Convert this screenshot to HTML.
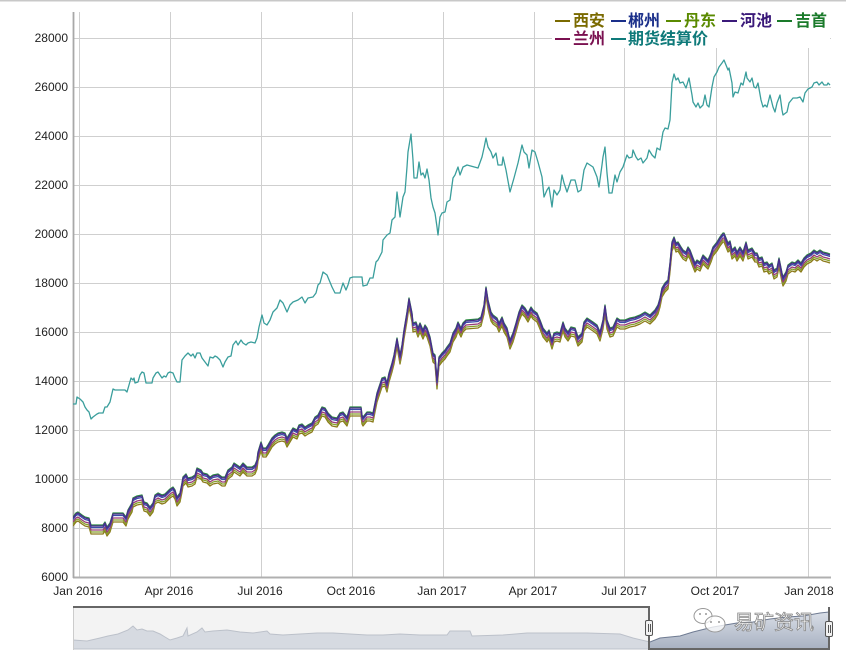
<!DOCTYPE html>
<html><head><meta charset="utf-8"><style>
html,body{margin:0;padding:0;background:#fff;}
svg{display:block;}
text{font-family:"Liberation Sans","Noto Sans CJK SC",sans-serif;}
</style></head><body>
<svg width="846" height="658" viewBox="0 0 846 658" xmlns="http://www.w3.org/2000/svg">
<defs>
<clipPath id="plot"><rect x="73" y="10" width="760" height="568"/></clipPath>
<clipPath id="navL"><rect x="73" y="600" width="576" height="50"/></clipPath>
<clipPath id="navR"><rect x="649" y="600" width="180" height="50"/></clipPath>
<linearGradient id="selg" x1="0" y1="0" x2="0" y2="1">
<stop offset="0" stop-color="#d9dee7"/><stop offset="1" stop-color="#a8b1c2"/>
</linearGradient>
<polyline id="cl" fill="none" points="73,517 76,513 78,512 82,515 85,517 89,518 91,525 103,525 105,522 107,527 110,523 113,513 123,513 126,517 128,510 132,503 133,498 137,496 142,495 144,502 147,503 150,507 153,503 155,495 158,493 162,495 165,494 167,492 170,489 173,487 175,490 177,497 180,493 182,483 183,477 186,474 188,478 192,477 195,475 197,468 201,470 203,473 207,474 210,477 213,475 218,474 222,477 225,477 228,470 232,467 234,463 237,465 240,467 243,463 247,467 252,467 255,465 257,460 258,452 261,442 263,448 266,448 268,445 272,438 275,435 278,433 282,432 285,433 287,438 290,433 293,428 297,430 299,425 302,424 305,427 308,425 312,423 315,417 318,415 322,407 325,408 328,413 332,417 337,418 340,413 343,412 347,417 350,407 358,407 361,407 362,415 363,417 367,412 370,412 373,413 374,408 377,393 378,390 382,378 385,377 387,383 389,373 392,363 394,355 397,338 400,355 402,345 404,330 407,312 409,298 412,313 413,323 416,322 418,328 420,323 423,330 425,325 427,328 430,337 433,353 435,355 437,380 439,357 442,353 445,350 447,347 450,343 453,333 456,328 458,322 461,328 463,323 466,320 478,319 481,317 484,305 486,287 488,300 491,312 493,315 497,318 499,323 502,317 504,323 507,328 510,340 513,333 516,323 519,312 522,305 525,308 528,313 531,307 533,310 537,313 540,320 543,328 547,333 549,330 552,340 554,333 557,332 560,333 563,322 565,328 568,332 571,327 575,328 578,337 582,333 584,322 587,318 590,320 593,322 597,325 600,332 603,320 605,305 607,320 610,328 613,327 617,318 620,320 625,320 630,318 635,317 640,315 645,312 650,315 655,310 658,305 660,298 662,288 665,283 668,280 670,263 672,242 674,237 676,243 678,242 681,247 683,250 686,252 688,247 690,250 693,258 695,263 697,260 700,262 703,255 706,258 708,260 711,253 713,247 717,242 720,237 723,233 724,233 726,238 728,243 730,241 732,250 735,247 737,252 740,247 743,252 746,242 748,250 752,248 755,253 757,253 759,258 762,257 764,263 767,262 769,265 772,263 774,270 777,268 779,258 782,273 783,277 786,272 788,265 792,262 795,263 798,260 801,263 804,258 807,255 811,253 814,250 817,252 820,250 823,252 827,253 830,254"/>
</defs>

<!-- top border -->
<line x1="0" y1="0.75" x2="846" y2="0.75" stroke="#c8c8c8" stroke-width="1.5"/>

<!-- grid -->
<g stroke="#cfcfcf" stroke-width="1">
<line x1="73" y1="38.5" x2="831" y2="38.5"/>
<line x1="73" y1="87.5" x2="831" y2="87.5"/>
<line x1="73" y1="136.5" x2="831" y2="136.5"/>
<line x1="73" y1="185.5" x2="831" y2="185.5"/>
<line x1="73" y1="234.5" x2="831" y2="234.5"/>
<line x1="73" y1="283.5" x2="831" y2="283.5"/>
<line x1="73" y1="332.5" x2="831" y2="332.5"/>
<line x1="73" y1="381.5" x2="831" y2="381.5"/>
<line x1="73" y1="430.5" x2="831" y2="430.5"/>
<line x1="73" y1="479.5" x2="831" y2="479.5"/>
<line x1="73" y1="528.5" x2="831" y2="528.5"/>
<line x1="79.5" y1="12" x2="79.5" y2="578"/>
<line x1="170.5" y1="12" x2="170.5" y2="578"/>
<line x1="261.5" y1="12" x2="261.5" y2="578"/>
<line x1="352.5" y1="12" x2="352.5" y2="578"/>
<line x1="443.5" y1="12" x2="443.5" y2="578"/>
<line x1="534.5" y1="12" x2="534.5" y2="578"/>
<line x1="624.5" y1="12" x2="624.5" y2="578"/>
<line x1="716.5" y1="12" x2="716.5" y2="578"/>
<line x1="808.5" y1="12" x2="808.5" y2="578"/>
</g>
<line x1="73" y1="577.5" x2="831" y2="577.5" stroke="#b0b0b0" stroke-width="2"/>
<line x1="73.5" y1="12" x2="73.5" y2="578" stroke="#a8a8a8" stroke-width="1.8"/>

<!-- y labels -->
<g font-size="12" fill="#222" text-anchor="end">
<text x="68" y="42">28000</text>
<text x="68" y="91">26000</text>
<text x="68" y="140">24000</text>
<text x="68" y="189">22000</text>
<text x="68" y="238">20000</text>
<text x="68" y="287">18000</text>
<text x="68" y="336">16000</text>
<text x="68" y="385">14000</text>
<text x="68" y="434">12000</text>
<text x="68" y="483">10000</text>
<text x="68" y="532">8000</text>
<text x="68" y="581">6000</text>
</g>
<!-- x labels -->
<g font-size="12" fill="#222" text-anchor="middle">
<text x="78" y="595">Jan 2016</text>
<text x="169" y="595">Apr 2016</text>
<text x="260" y="595">Jul 2016</text>
<text x="351" y="595">Oct 2016</text>
<text x="442" y="595">Jan 2017</text>
<text x="533" y="595">Apr 2017</text>
<text x="624" y="595">Jul 2017</text>
<text x="715" y="595">Oct 2017</text>
<text x="809" y="595">Jan 2018</text>
</g>

<!-- series -->
<g clip-path="url(#plot)" stroke-width="1.3" stroke-linejoin="round" fill="none">
<use href="#cl" transform="translate(0,9)" stroke="#8c7a1a"/>
<use href="#cl" transform="translate(0,7)" stroke="#86a02a"/>
<use href="#cl" transform="translate(0,5)" stroke="#973a78"/>
<use href="#cl" transform="translate(0,2.5)" stroke="#3a4ca8"/>
<use href="#cl" transform="translate(0,0)" stroke="#2a8c40"/>
<use href="#cl" transform="translate(0,1)" stroke="#4a2c8c"/>
<polyline stroke="#3a9e9c" stroke-width="1.3" points="73,404 76,404 77,397 80,399 83,402 85,407 87,410 89,412 91,419 93,417 97,414 99,413 103,413 105,407 107,407 110,402 113,389 115,390 125,390 127,392 129,385 131,378 133,380 134,378 135,383 138,382 140,375 142,372 144,373 146,383 148,383 152,383 153,378 156,373 158,372 160,375 162,378 164,376 166,377 168,373 170,372 173,373 175,378 177,382 180,382 182,360 185,356 188,353 191,356 193,354 195,358 197,353 200,353 202,358 205,362 208,366 210,357 213,358 215,356 217,357 220,360 223,367 225,362 228,357 231,356 233,345 236,341 238,345 241,340 243,343 246,345 248,343 251,342 255,343 257,338 259,327 262,315 264,323 267,325 270,320 273,312 277,308 280,300 283,303 287,312 290,305 293,302 298,300 302,297 305,303 308,298 313,297 316,293 318,285 320,283 323,272 327,275 332,287 335,293 340,293 343,283 346,290 348,285 350,278 353,277 360,277 362,277 363,286 367,285 370,278 373,278 376,262 378,260 382,252 383,240 387,235 390,233 392,220 395,217 397,192 400,217 403,197 405,192 407,167 408,152 411,134 413,160 414,178 417,178 419,162 421,175 423,173 425,178 427,169 429,180 431,198 433,207 435,213 437,227 438,235 440,217 442,213 445,212 447,202 450,200 453,178 455,175 458,167 460,175 463,167 467,165 478,168 482,157 484,148 486,138 488,147 491,152 493,158 496,153 498,165 502,165 503,157 506,170 510,192 514,178 518,163 522,145 524,152 527,155 529,168 532,150 535,152 538,162 542,177 544,197 547,190 549,187 552,207 554,190 557,195 560,190 562,175 564,183 567,192 571,180 575,180 578,192 581,190 584,170 587,163 590,165 593,167 597,177 599,187 602,165 603,157 605,147 607,173 609,193 612,193 615,175 617,182 620,172 623,167 627,155 629,158 632,157 633,150 636,157 638,160 641,158 643,163 647,158 649,150 652,155 655,158 657,148 660,150 663,132 665,128 668,129 670,120 672,83 674,74 676,80 678,78 680,83 683,82 686,88 689,78 692,95 693,102 696,107 698,103 700,108 703,105 705,95 707,105 709,107 712,87 714,77 717,72 719,67 722,63 724,60 726,65 728,70 729,68 732,83 733,97 735,92 738,93 741,83 743,85 746,72 747,78 750,82 752,78 754,87 756,88 758,83 761,100 763,107 765,105 767,107 770,95 773,107 775,112 777,103 780,95 782,110 783,115 787,112 789,103 793,98 797,98 800,97 803,102 805,93 808,89 812,87 814,83 817,82 819,85 822,82 824,85 827,85 828,83 830,85"/>
</g>

<!-- legend -->
<rect x="552" y="9" width="278" height="39" fill="#fff"/>
<g font-size="16" font-weight="bold" font-family="'Liberation Sans','Noto Sans CJK SC',sans-serif">
<line x1="555" y1="21" x2="570" y2="21" stroke="#7a6a00" stroke-width="2"/>
<text x="573" y="26" fill="#7a6a00">西安</text>
<line x1="611" y1="21" x2="626" y2="21" stroke="#1a2f8a" stroke-width="2"/>
<text x="628" y="26" fill="#1a2f8a">郴州</text>
<line x1="666" y1="21" x2="681" y2="21" stroke="#5a8a00" stroke-width="2"/>
<text x="684" y="26" fill="#5a8a00">丹东</text>
<line x1="722" y1="21" x2="737" y2="21" stroke="#3b1a7a" stroke-width="2"/>
<text x="740" y="26" fill="#3b1a7a">河池</text>
<line x1="777" y1="21" x2="792" y2="21" stroke="#1a7a2a" stroke-width="2"/>
<text x="795" y="26" fill="#1a7a2a">吉首</text>
<line x1="555" y1="39" x2="570" y2="39" stroke="#7a1050" stroke-width="2"/>
<text x="573" y="44" fill="#7a1050">兰州</text>
<line x1="611" y1="39" x2="626" y2="39" stroke="#0f7a7a" stroke-width="2"/>
<text x="628" y="44" fill="#0f7a7a">期货结算价</text>
</g>

<!-- navigator -->
<rect x="73" y="607" width="576" height="42" fill="#f3f3f3"/>
<rect x="649" y="607" width="180" height="42" fill="#fff"/>
<path id="navarea" d="M73,640 87,641 100,638 108,636 118,634 128,630 133,626 137,630 142,629 147,631 153,631 160,634 165,637 170,640 177,638 183,636 187,628 188,636 197,632 202,628 205,632 213,631 227,630 240,632 253,633 267,631 270,634 283,635 300,634 317,633 333,633 350,634 367,635 383,635 400,634 420,635 447,635 450,631 470,631 472,636 503,635 527,633 553,633 587,633 620,634 633,638 650,642 660,638 680,636 693,632 713,627 737,623 753,622 770,619 787,617 803,616 820,613 829,612 L829,649 73,649Z" fill="#d6dae1" stroke="#bcc1ca" stroke-width="1" clip-path="url(#navL)"/>
<path d="M73,640 87,641 100,638 108,636 118,634 128,630 133,626 137,630 142,629 147,631 153,631 160,634 165,637 170,640 177,638 183,636 187,628 188,636 197,632 202,628 205,632 213,631 227,630 240,632 253,633 267,631 270,634 283,635 300,634 317,633 333,633 350,634 367,635 383,635 400,634 420,635 447,635 450,631 470,631 472,636 503,635 527,633 553,633 587,633 620,634 633,638 650,642 660,638 680,636 693,632 713,627 737,623 753,622 770,619 787,617 803,616 820,613 829,612 L829,649 73,649Z" fill="url(#selg)" stroke="#6f7b92" stroke-width="1" clip-path="url(#navR)"/>
<line x1="73.5" y1="607" x2="73.5" y2="650" stroke="#cccccc" stroke-width="1"/>
<path d="M73,607 L649,607 L649,649 L829,649 L829,607" fill="none" stroke="#666" stroke-width="2"/>

<!-- watermark -->
<g fill="#fff" fill-opacity="0.75" stroke="#999" stroke-width="1">
<ellipse cx="703" cy="616" rx="9" ry="7.5"/>
<ellipse cx="715" cy="624" rx="10" ry="8"/>
</g>
<g fill="#999"><circle cx="711" cy="622" r="1"/><circle cx="719" cy="622" r="1"/><circle cx="700" cy="614" r="1"/><circle cx="706" cy="614" r="1"/></g>
<text x="734" y="629" font-size="20" fill="#fff" stroke="#8a8a8a" stroke-width="0.8" font-family="'Liberation Sans','Noto Sans CJK SC',sans-serif">易矿资讯</text>

<!-- handles -->
<g fill="#f2f2f2" stroke="#555" stroke-width="1">
<rect x="645.5" y="620.5" width="7" height="15" rx="1.5"/>
<rect x="825.5" y="621.5" width="7" height="15" rx="1.5"/>
</g>
<g stroke="#555" stroke-width="1">
<line x1="648.5" y1="624" x2="648.5" y2="632"/><line x1="650.5" y1="624" x2="650.5" y2="632"/>
<line x1="828.5" y1="625" x2="828.5" y2="633"/><line x1="830.5" y1="625" x2="830.5" y2="633"/>
</g>
</svg>
</body></html>
